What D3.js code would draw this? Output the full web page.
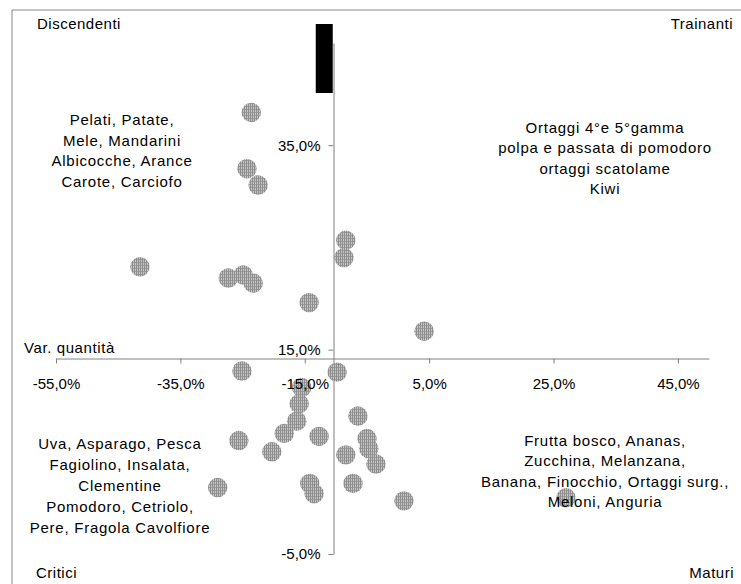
<!DOCTYPE html>
<html>
<head>
<meta charset="utf-8">
<script src="https://cdn.jsdelivr.net/npm/d3@7"></script>
<style>
  html, body { margin: 0; padding: 0; background: #fff; }
  svg { display: block; }
  text { font-family: "Liberation Sans", Arial, sans-serif; fill: #000; }
</style>
</head>
<body>
<svg id="chart" width="741" height="584"></svg>
<script>
// ---- data ----
const varQuantita = [-23.6, -24.3, -22.5, -41.5, -27.3, -24.9, -23.3, -14.3, -8.4, -8.7, 4.2,
  -25.1, -9.8, -15.5, -15.9, -16.3, -18.3, -25.6, -20.3, -12.7, -29.0, -14.2, -13.5,
  -6.45, -5.0, -4.7, -8.4, -3.55, -7.25, 0.95, 27.0];
const varValore = [38.2, 32.7, 31.1, 23.1, 22.0, 22.3, 21.5, 19.6, 25.7, 24.0, 16.8,
  12.9, 12.8, 11.3, 9.7, 8.0, 6.8, 6.1, 5.0, 6.5, 1.5, 1.9, 0.9,
  8.5, 6.3, 5.3, 4.7, 3.8, 1.9, 0.2, 0.5];
const xTicks = [-55, -35, -15, 5, 25, 45];
const yTicks = [35, 15, -5];
const xDomain = [-55, 50];
const yDomain = [-5, 45];
const xCross = -10.5;   // where the vertical axis crosses
const yCross = 14.2;    // where the horizontal axis crosses
const xTitle = "Var. quantità";
const cornerLabels = ["Discendenti", "Trainanti", "Critici", "Maturi"];
const textUpperLeft = ["Pelati, Patate,", "Mele, Mandarini", "Albicocche, Arance", "Carote, Carciofo"];
const textUpperRight = ["Ortaggi 4°e 5°gamma", "polpa e passata di pomodoro", "ortaggi scatolame", "Kiwi"];
const textLowerLeft = ["Uva, Asparago, Pesca", "Fagiolino, Insalata,", "Clementine", "Pomodoro, Cetriolo,", "Pere, Fragola Cavolfiore"];
const textLowerRight = ["Frutta bosco, Ananas,", "Zucchina, Melanzana,", "Banana, Finocchio, Ortaggi surg.,", "Meloni, Anguria"];

// ---- drawing ----
const svg = d3.select("#chart");
const fmt = d => d.toFixed(1).replace(".", ",") + "%";

const x = d3.scaleLinear().domain(xDomain).range([56, 709]);
const y = d3.scaleLinear().domain(yDomain).range([554, 43]);

// pattern fill for markers
const defs = svg.append("defs");
const pat = defs.append("pattern").attr("id", "dots")
  .attr("patternUnits", "userSpaceOnUse").attr("width", 2).attr("height", 3);
pat.append("rect").attr("width", 2).attr("height", 3).attr("fill", "#c4c4c4");
pat.append("rect").attr("width", 1).attr("height", 3).attr("fill", "#8e8e8e");
pat.append("rect").attr("x", 1).attr("y", 1).attr("width", 1).attr("height", 1).attr("fill", "#9c9c9c");

// outer frame
svg.append("path").attr("d", "M12,584V10H741").attr("fill", "none")
  .attr("stroke", "#868686").attr("stroke-width", 1);

const xAxis = d3.axisBottom(x).tickValues(xTicks).tickFormat(fmt).tickSize(5).tickSizeOuter(0).tickPadding(15);
const yAxis = d3.axisLeft(y).tickValues(yTicks).tickFormat(fmt).tickSize(5).tickSizeOuter(0).tickPadding(8);
const xT = `translate(0,${Math.round(y(yCross)) + 0.5})`;
const yT = `translate(${Math.round(x(xCross)) + 0.5},0)`;

function styleAxis(g, showLines, showText) {
  g.select(".domain").attr("stroke", "#808080").attr("display", showLines ? null : "none");
  g.selectAll(".tick line").attr("stroke", "#808080").attr("display", showLines ? null : "none");
  g.selectAll(".tick text").attr("font-size", 15)
    .attr("font-family", "Liberation Sans, Arial, sans-serif")
    .attr("display", showText ? null : "none");
}

// axis lines (below markers)
styleAxis(svg.append("g").attr("transform", xT).call(xAxis), true, false);
styleAxis(svg.append("g").attr("transform", yT).call(yAxis), true, false);

// black block at top of vertical axis
svg.append("rect").attr("x", x(xCross) - 17).attr("y", 24).attr("width", 17).attr("height", 69).attr("fill", "#000");

// x axis title
svg.append("text").attr("x", 24).attr("y", 353).attr("font-size", 15).attr("letter-spacing", 0.6).text(xTitle);

// corner labels
const corners = [
  {t: cornerLabels[0], x: 37, y: 29, a: "start"},
  {t: cornerLabels[1], x: 733, y: 29, a: "end"},
  {t: cornerLabels[2], x: 36, y: 578, a: "start"},
  {t: cornerLabels[3], x: 734, y: 578, a: "end"}
];
svg.selectAll("text.corner").data(corners).join("text").attr("class", "corner")
  .attr("x", d => d.x).attr("y", d => d.y).attr("text-anchor", d => d.a)
  .attr("font-size", 15).attr("letter-spacing", 0.5).text(d => d.t);

// markers
const pts = varQuantita.map((v, i) => ({x: v, y: varValore[i]}));
svg.append("g").selectAll("circle").data(pts).join("circle")
  .attr("cx", d => x(d.x)).attr("cy", d => y(d.y)).attr("r", 9.7)
  .attr("fill", "url(#dots)");

// tick labels (above markers)
styleAxis(svg.append("g").attr("transform", xT).call(xAxis), false, true);
styleAxis(svg.append("g").attr("transform", yT).call(yAxis), false, true);

// quadrant description blocks
function block(lines, cx, y0, dy) {
  svg.append("g").selectAll("text").data(lines).join("text")
    .attr("x", cx).attr("y", (d, i) => y0 + i * dy).attr("text-anchor", "middle")
    .attr("font-size", 15).attr("letter-spacing", 0.75).text(d => d);
}
block(textUpperLeft, 122, 125, 20.7);
block(textUpperRight, 605, 133, 20.4);
block(textLowerLeft, 120, 449, 21);
block(textLowerRight, 605, 446, 20.4);
</script>
</body>
</html>
